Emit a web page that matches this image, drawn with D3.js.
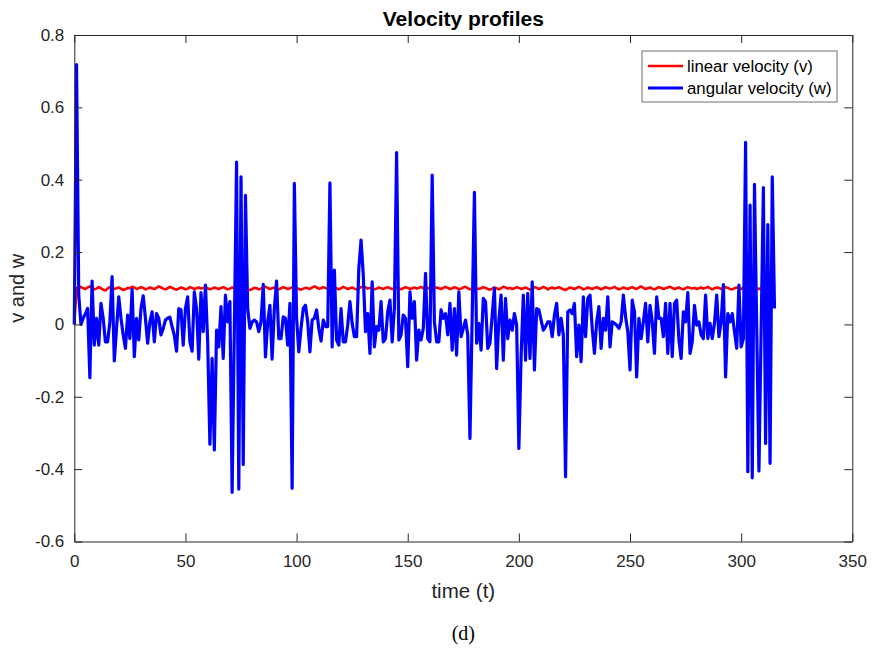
<!DOCTYPE html>
<html>
<head>
<meta charset="utf-8">
<script src="https://cdn.jsdelivr.net/npm/d3@7"></script>
<style>
  html, body { margin: 0; padding: 0; background: #fff; }
  svg { display: block; }
  text { font-family: "Liberation Sans", Arial, Helvetica, sans-serif; }
</style>
</head>
<body>
<svg id="chart" width="873" height="651"></svg>
<script>
// ---- data (time = array index) ----
const linearV = [
0, 0.100, 0.101, 0.104, 0.100, 0.098, 0.102, 0.105, 0.101, 0.097,
0.099, 0.103, 0.100, 0.096, 0.094, 0.099, 0.103, 0.101, 0.098, 0.100,
0.102, 0.099, 0.095, 0.097, 0.101, 0.100, 0.104, 0.102, 0.098, 0.100,
0.103, 0.101, 0.097, 0.099, 0.102, 0.100, 0.098, 0.101, 0.105, 0.102,
0.099, 0.097, 0.100, 0.104, 0.101, 0.098, 0.096, 0.099, 0.102, 0.100,
0.097, 0.099, 0.103, 0.101, 0.098, 0.100, 0.102, 0.099, 0.101, 0.104,
0.100, 0.097, 0.099, 0.102, 0.100, 0.098, 0.101, 0.103, 0.100, 0.097,
0.099, 0.102, 0.101, 0.098, 0.100, 0.103, 0.101, 0.099, 0.096, 0.095,
0.098, 0.101, 0.100, 0.097, 0.099, 0.102, 0.104, 0.101, 0.098, 0.100,
0.102, 0.099, 0.097, 0.100, 0.103, 0.101, 0.098, 0.100, 0.102, 0.104,
0.101, 0.098, 0.096, 0.099, 0.101, 0.100, 0.098, 0.102, 0.105, 0.102,
0.099, 0.100, 0.103, 0.101, 0.098, 0.096, 0.099, 0.102, 0.100, 0.097,
0.100, 0.104, 0.101, 0.098, 0.100, 0.102, 0.099, 0.097, 0.100, 0.103,
0.105, 0.102, 0.099, 0.101, 0.100, 0.097, 0.099, 0.102, 0.100, 0.098,
0.101, 0.103, 0.100, 0.098, 0.099, 0.102, 0.100, 0.097, 0.100, 0.103,
0.101, 0.098, 0.100, 0.102, 0.099, 0.101, 0.104, 0.100, 0.098, 0.101,
0.099, 0.097, 0.100, 0.102, 0.100, 0.098, 0.101, 0.104, 0.101, 0.098,
0.100, 0.103, 0.101, 0.097, 0.099, 0.102, 0.104, 0.100, 0.097, 0.099,
0.102, 0.100, 0.098, 0.100, 0.103, 0.101, 0.098, 0.096, 0.099, 0.102,
0.100, 0.097, 0.100, 0.104, 0.102, 0.099, 0.101, 0.098, 0.100, 0.103,
0.101, 0.098, 0.100, 0.102, 0.099, 0.096, 0.099, 0.103, 0.101, 0.098,
0.100, 0.104, 0.101, 0.097, 0.100, 0.102, 0.099, 0.101, 0.103, 0.100,
0.097, 0.095, 0.099, 0.102, 0.100, 0.098, 0.101, 0.104, 0.101, 0.097,
0.099, 0.102, 0.100, 0.098, 0.101, 0.103, 0.100, 0.097, 0.100, 0.103,
0.101, 0.099, 0.101, 0.104, 0.100, 0.097, 0.099, 0.102, 0.100, 0.098,
0.101, 0.103, 0.100, 0.098, 0.102, 0.105, 0.101, 0.098, 0.100, 0.102,
0.099, 0.097, 0.100, 0.103, 0.101, 0.098, 0.100, 0.102, 0.104, 0.101,
0.098, 0.100, 0.102, 0.099, 0.097, 0.100, 0.103, 0.101, 0.099, 0.101,
0.098, 0.100, 0.102, 0.099, 0.101, 0.104, 0.100, 0.097, 0.100, 0.102,
0.101, 0.098, 0.100, 0.103, 0.101, 0.098, 0.097, 0.100, 0.102, 0.100,
0.098, 0.101, 0.104, 0.100, 0.097, 0.101, 0.103, 0.100, 0.098, 0.100
];

const angularW = [
0, 0.718, 0.08, 0.0, 0.017, 0.030, 0.044, -0.147, 0.12, -0.057,
0.017, -0.057, 0.058, 0.017, -0.048, -0.048, 0.007, 0.132, -0.101, -0.011,
0.076, 0.017, -0.029, -0.066, 0.026, -0.039, 0.097, -0.089, 0.017, -0.043,
0.044, 0.079, 0.017, -0.052, 0.007, 0.035, -0.048, 0.030, 0.017, -0.029,
-0.011, 0.012, 0.017, 0.02, -0.006, -0.03, -0.074, 0.044, 0.04, -0.057,
0.044, 0.076, -0.048, -0.074, 0.09, 0.044, -0.096, 0.088, -0.02, 0.109,
-0.048, -0.331, -0.094, -0.347, -0.016, -0.062, 0.049, -0.094, 0.081, 0.007,
0.063, -0.464, -0.01, 0.449, -0.455, 0.408, -0.387, 0.357, 0.044, -0.011,
0.007, 0.012, 0.007, -0.02, 0.007, 0.111, -0.09, 0.007, 0.053, -0.096,
0.044, 0.12, -0.039, -0.039, 0.021, 0.017, -0.057, 0.058, -0.453, 0.39,
0.017, -0.076, -0.011, 0.044, 0.053, 0.007, -0.076, 0.012, 0.017, 0.04,
-0.011, -0.046, 0.012, -0.006, -0.006, 0.391, -0.062, 0.15, -0.043, -0.057,
0.044, -0.048, -0.048, -0.002, 0.063, 0.003, -0.034, -0.034, 0.155, 0.233,
0.136, -0.02, 0.03, -0.08, 0.118, -0.062, -0.006, -0.016, 0.063, -0.048,
-0.039, 0.035, 0.067, -0.048, 0.044, 0.475, -0.043, -0.029, 0.026, 0.017,
-0.117, 0.09, 0.017, 0.063, -0.099, -0.016, -0.043, -0.011, 0.141, -0.039,
-0.048, 0.413, 0.007, -0.048, -0.048, 0.04, 0.017, 0.03, -0.029, 0.058,
-0.071, 0.044, -0.085, 0.09, -0.034, -0.011, 0.012, -0.029, -0.315, 0.025,
0.365, -0.052, 0.003, -0.071, 0.072, 0.063, -0.066, -0.052, 0.026, 0.1,
-0.122, 0.012, 0.081, -0.099, 0.072, -0.039, 0.012, -0.016, 0.03, -0.002,
-0.343, -0.089, 0.081, -0.099, 0.086, -0.094, 0.118, -0.126, 0.044, 0.04,
0.012, -0.016, -0.006, 0.007, 0.007, -0.034, 0.026, 0.058, -0.029, 0.017,
-0.029, -0.421, 0.035, 0.04, 0.03, 0.058, -0.089, -0.002, -0.103, 0.076,
-0.034, 0.072, 0.081, -0.011, -0.08, 0.007, 0.049, -0.066, 0.017, -0.016,
0.076, -0.062, 0.007, 0.003, -0.002, -0.011, 0.007, 0.081, 0.021, -0.02,
-0.126, 0.067, 0.035, -0.145, 0.017, -0.039, 0.007, 0.058, -0.048, 0.053,
0.007, -0.08, 0.076, 0.017, 0.017, -0.034, 0.058, -0.08, 0.058, -0.089,
0.058, 0.067, -0.043, -0.094, 0.035, 0.007, 0.088, -0.08, -0.048, 0.053,
-0.002, 0.007, -0.029, -0.039, 0.081, -0.039, 0.003, -0.039, 0.003, 0.081,
-0.034, 0.007, 0.11, -0.145, 0.03, 0.007, 0.03, -0.02, -0.066, 0.109,
-0.062, -0.039, 0.503, -0.407, 0.33, -0.424, 0.387, -0.01, -0.405, -0.01,
0.378, -0.329, 0.276, -0.384, 0.408, 0.044
];

const xTicks = [0, 50, 100, 150, 200, 250, 300, 350];
const yTicks = [-0.6, -0.4, -0.2, 0, 0.2, 0.4, 0.6, 0.8];
const yTickLabels = ["-0.6", "-0.4", "-0.2", "0", "0.2", "0.4", "0.6", "0.8"];
const seriesNames = ["linear velocity (v)", "angular velocity (w)"];
const seriesColors = ["#ff0000", "#0000ff"];
const titleText = "Velocity profiles";
const xLabel = "time (t)";
const yLabel = "v and w";
const caption = "(d)";

// ---- layout ----
const svg = d3.select("#chart");
const L = 74.3, R = 852.3, T = 35, B = 541.5;
const x = d3.scaleLinear().domain([0, 350]).range([L, R]);
const y = d3.scaleLinear().domain([-0.6, 0.8]).range([B, T]);
const axisColor = "#262626";
const tickLen = 8;

svg.append("rect").attr("x", L).attr("y", T).attr("width", R - L).attr("height", B - T).attr("fill", "#fff");

// lines
const lineV = d3.line().x((d, i) => x(i)).y(d => y(d));
const plot = svg.append("g");
plot.append("path").datum(linearV)
  .attr("d", lineV).attr("fill", "none")
  .attr("stroke", seriesColors[0]).attr("stroke-width", 2.6).attr("stroke-linejoin", "round");
plot.append("path").datum(angularW)
  .attr("d", lineV).attr("fill", "none")
  .attr("stroke", seriesColors[1]).attr("stroke-width", 3.2).attr("stroke-linejoin", "round");

// axes
function styleAxis(g) {
  g.select(".domain").attr("stroke", axisColor).attr("stroke-width", 1);
  g.selectAll(".tick line").attr("stroke", axisColor).attr("stroke-width", 1);
  g.selectAll(".tick text").attr("fill", axisColor)
    .style("font-family", '"Liberation Sans", Arial, Helvetica, sans-serif')
    .style("font-size", "17px");
}
svg.append("g").attr("transform", `translate(0,${B})`)
  .call(d3.axisBottom(x).tickValues(xTicks).tickSizeInner(-tickLen).tickSizeOuter(0).tickPadding(13).tickFormat(d3.format("d")))
  .call(styleAxis);
svg.append("g").attr("transform", `translate(0,${T})`)
  .call(d3.axisTop(x).tickValues(xTicks).tickSizeInner(-tickLen).tickSizeOuter(0).tickFormat(""))
  .call(styleAxis);
svg.append("g").attr("transform", `translate(${L},0)`)
  .call(d3.axisLeft(y).tickValues(yTicks).tickSizeInner(-tickLen).tickSizeOuter(0).tickPadding(10)
    .tickFormat((d, i) => yTickLabels[i]))
  .call(styleAxis);
svg.append("g").attr("transform", `translate(${R},0)`)
  .call(d3.axisRight(y).tickValues(yTicks).tickSizeInner(-tickLen).tickSizeOuter(0).tickFormat(""))
  .call(styleAxis);

// title & labels
svg.append("text").attr("x", (L + R) / 2).attr("y", 26).attr("text-anchor", "middle")
  .attr("font-weight", "bold").attr("font-size", 21).attr("fill", "#000").text(titleText);
svg.append("text").attr("x", (L + R) / 2).attr("y", 598).attr("text-anchor", "middle")
  .attr("font-size", 20.5).attr("fill", axisColor).text(xLabel);
svg.append("text").attr("transform", `translate(24,${(T + B) / 2}) rotate(-90)`).attr("text-anchor", "middle")
  .attr("font-size", 20).attr("fill", axisColor).text(yLabel);
svg.append("text").attr("x", (L + R) / 2).attr("y", 640).attr("text-anchor", "middle")
  .style("font-family", '"Liberation Serif", "Times New Roman", serif')
  .attr("font-size", 20).attr("fill", "#000").text(caption);

// legend
const lg = svg.append("g");
lg.append("rect").attr("x", 642).attr("y", 51).attr("width", 195).attr("height", 51)
  .attr("fill", "#fff").attr("stroke", "#6e6e6e").attr("stroke-width", 1);
seriesNames.forEach((name, i) => {
  const yy = 66 + i * 22;
  lg.append("line").attr("x1", 648).attr("x2", 683).attr("y1", yy).attr("y2", yy)
    .attr("stroke", seriesColors[i]).attr("stroke-width", i === 0 ? 2.6 : 3.2);
  lg.append("text").attr("x", 687).attr("y", yy + 5.5).attr("font-size", 16.8)
    .attr("fill", "#000").text(name);
});
</script>
</body>
</html>
